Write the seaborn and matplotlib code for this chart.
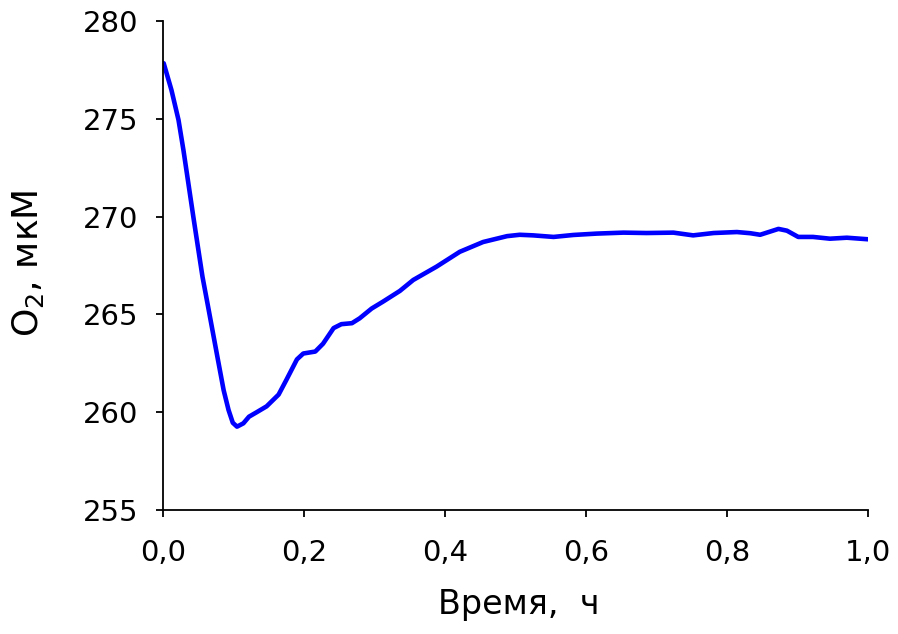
import matplotlib
matplotlib.use("Agg")
import matplotlib.pyplot as plt
import seaborn as sns
import pandas as pd
import numpy as np

# Time (h) and O2 concentration (uM)
time_h = [0.001, 0.012, 0.022, 0.029, 0.036, 0.043, 0.0495, 0.056, 0.064, 0.071,
          0.078, 0.086, 0.093, 0.099, 0.105, 0.114, 0.122, 0.133, 0.147, 0.164,
          0.175, 0.190, 0.199, 0.216, 0.227, 0.242, 0.253, 0.268, 0.279, 0.296,
          0.312, 0.336, 0.355, 0.388, 0.421, 0.454, 0.488, 0.506, 0.525, 0.554,
          0.582, 0.615, 0.653, 0.686, 0.724, 0.752, 0.781, 0.814, 0.833, 0.847,
          0.873, 0.885, 0.901, 0.922, 0.946, 0.970, 1.000]
o2_um = [277.84, 276.47, 274.94, 273.4, 271.7, 270.0, 268.46, 266.93, 265.39, 264.03,
         262.67, 261.13, 260.11, 259.46, 259.26, 259.43, 259.77, 260.0, 260.3, 260.9,
         261.65, 262.7, 263.0, 263.1, 263.5, 264.3, 264.5, 264.55, 264.8, 265.3,
         265.65, 266.2, 266.76, 267.44, 268.2, 268.7, 269.0, 269.07, 269.04, 268.96,
         269.06, 269.13, 269.18, 269.16, 269.18, 269.04, 269.16, 269.21, 269.15, 269.07,
         269.37, 269.28, 268.96, 268.96, 268.87, 268.92, 268.84]

x_ticks = [0.0, 0.2, 0.4, 0.6, 0.8, 1.0]
y_ticks = [255, 260, 265, 270, 275, 280]

df = pd.DataFrame({"t": time_h, "o2": o2_um})

sns.set_style("white")
plt.rcParams["font.family"] = ["DejaVu Sans"]
plt.rcParams["text.color"] = "black"
plt.rcParams["xtick.color"] = "black"
plt.rcParams["ytick.color"] = "black"
plt.rcParams["axes.labelcolor"] = "black"

fig = plt.figure(figsize=(8.98, 6.34), dpi=100)
ax = fig.add_axes([0.1815, 0.1956, 0.7851, 0.7713])

sns.lineplot(data=df, x="t", y="o2", ax=ax, color="#0000ff", linewidth=3.3,
             solid_joinstyle="round", solid_capstyle="round")

ax.set_xlim(0, 1.0)
ax.set_ylim(255, 280)
ax.set_xticks(x_ticks)
ax.set_xticklabels([f"{v:.1f}".replace(".", ",") for v in x_ticks])
ax.set_yticks(y_ticks)
ax.set_yticklabels([str(v) for v in y_ticks])

for side in ["top", "right"]:
    ax.spines[side].set_visible(False)
for side in ["left", "bottom"]:
    ax.spines[side].set_color("black")
    ax.spines[side].set_linewidth(1.3)

ax.tick_params(axis="x", bottom=True, direction="out", length=5, width=1.3,
               labelsize=21, pad=16)
ax.tick_params(axis="y", left=True, direction="out", length=5, width=1.3,
               labelsize=21, pad=13)

ax.set_xlabel("Время,  ч", fontsize=24)
ax.set_ylabel("O$_2$, мкМ", fontsize=26)
ax.xaxis.set_label_coords(0.505, -0.194)
ax.xaxis.label.set_verticalalignment("center")
ax.yaxis.set_label_coords(-0.1915, 0.505)
ax.yaxis.label.set_verticalalignment("center")

fig.savefig("out.png", dpi=100)
